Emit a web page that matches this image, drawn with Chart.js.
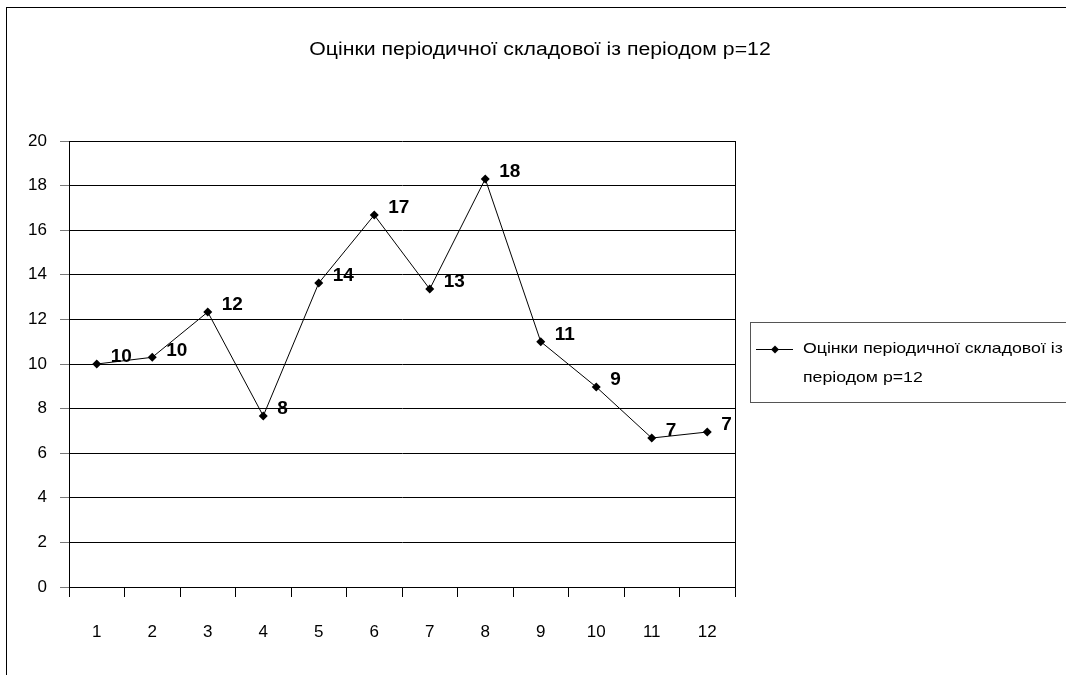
<!DOCTYPE html>
<html>
<head>
<meta charset="utf-8">
<script src="https://cdn.jsdelivr.net/npm/chart.js@4.4.1/dist/chart.umd.min.js"></script>
<style>
  html, body { margin: 0; padding: 0; background: #fff; }
  #wrap { width: 1066px; height: 675px; position: relative; }
</style>
</head>
<body>
<div id="wrap"><canvas id="c" width="1066" height="675"></canvas></div>
<script>
// --- дані ---
const categories = ['1', '2', '3', '4', '5', '6', '7', '8', '9', '10', '11', '12'];
const seasonal = [10.0, 10.3, 12.33, 7.67, 13.63, 16.68, 13.36, 18.3, 11.0, 8.97, 6.68, 6.95];
const yTicks = [0, 2, 4, 6, 8, 10, 12, 14, 16, 18, 20];
const titleText = 'Оцінки періодичної складової із періодом р=12';
const legendLines = ['Оцінки періодичної складової із', 'періодом р=12'];

const FONT = '"Liberation Sans", Arial, sans-serif';
const STRETCH = 1.18; // текст в оригіналі трохи розтягнутий по горизонталі

function stretchedText(ctx, text, x, y, align) {
    ctx.save();
    ctx.translate(x, y);
    ctx.scale(STRETCH, 1);
    ctx.textAlign = align;
    ctx.fillText(text, 0, 0);
    ctx.restore();
}

function drawDiamond(ctx, x, y, r) {
    ctx.beginPath();
    ctx.moveTo(x, y - r);
    ctx.lineTo(x + r, y);
    ctx.lineTo(x, y + r);
    ctx.lineTo(x - r, y);
    ctx.closePath();
    ctx.fillStyle = '#000';
    ctx.fill();
}

// рамка, заголовок, легенда, підписи точок
const decorPlugin = {
    id: 'decor',
    afterDraw(chart) {
        const ctx = chart.ctx;
        const a = chart.chartArea;
        ctx.save();
        // зовнішня рамка
        ctx.strokeStyle = '#000';
        ctx.lineWidth = 1;
        ctx.strokeRect(6.5, 7.5, 1100, 700);
        // права межа області графіка
        ctx.beginPath();
        ctx.moveTo(Math.round(a.right) + 0.5, a.top);
        ctx.lineTo(Math.round(a.right) + 0.5, a.bottom);
        ctx.stroke();

        // заголовок
        ctx.fillStyle = '#000';
        ctx.textBaseline = 'middle';
        ctx.font = '18px ' + FONT;
        stretchedText(ctx, titleText, 540, 50, 'center');

        // легенда
        ctx.strokeStyle = '#555';
        ctx.strokeRect(750.5, 322.5, 330, 80);
        ctx.strokeStyle = '#000';
        ctx.beginPath();
        ctx.moveTo(756, 349.5);
        ctx.lineTo(793, 349.5);
        ctx.stroke();
        drawDiamond(ctx, 775, 349.5, 4);
        ctx.font = '15px ' + FONT;
        stretchedText(ctx, legendLines[0], 803, 349, 'left');
        stretchedText(ctx, legendLines[1], 803, 378, 'left');

        // підписи значень
        const meta = chart.getDatasetMeta(0);
        ctx.font = 'bold 19px ' + FONT;
        ctx.textAlign = 'left';
        meta.data.forEach((pt, i) => {
            ctx.fillText(String(Math.round(seasonal[i])), pt.x + 14, pt.y - 7);
        });
        ctx.restore();
    }
};

new Chart(document.getElementById('c'), {
    type: 'line',
    data: {
        labels: categories,
        datasets: [{
            label: titleText,
            data: seasonal,
            borderColor: '#000',
            borderWidth: 1,
            backgroundColor: '#000',
            pointStyle: 'rectRot',
            pointRadius: 4.5,
            pointBorderWidth: 0,
            pointBackgroundColor: '#000',
            tension: 0,
            fill: false
        }]
    },
    options: {
        responsive: false,
        animation: false,
        layout: { padding: { top: 141, left: 0, right: 331, bottom: 0 } },
        plugins: {
            legend: { display: false },
            title: { display: false },
            tooltip: { enabled: false }
        },
        scales: {
            x: {
                type: 'category',
                offset: true,
                grid: {
                    offset: true,
                    drawOnChartArea: false,
                    tickLength: 10,
                    color: '#000',
                    tickColor: '#000'
                },
                border: { display: true, color: '#000', width: 1 },
                ticks: {
                    color: '#000',
                    font: { family: FONT, size: 17 },
                    padding: 25,
                    maxRotation: 0,
                    autoSkip: false
                },
                afterFit(scale) { scale.height = 88; }
            },
            y: {
                min: 0,
                max: 20,
                afterBuildTicks(scale) { scale.ticks = yTicks.map(v => ({ value: v })); },
                grid: {
                    color: '#000',
                    tickColor: '#777',
                    tickLength: 9
                },
                border: { display: true, color: '#000', width: 1 },
                ticks: {
                    color: '#000',
                    font: { family: FONT, size: 17 },
                    padding: 13
                },
                afterFit(scale) { scale.width = 69; }
            }
        }
    },
    plugins: [decorPlugin]
});
</script>
</body>
</html>
